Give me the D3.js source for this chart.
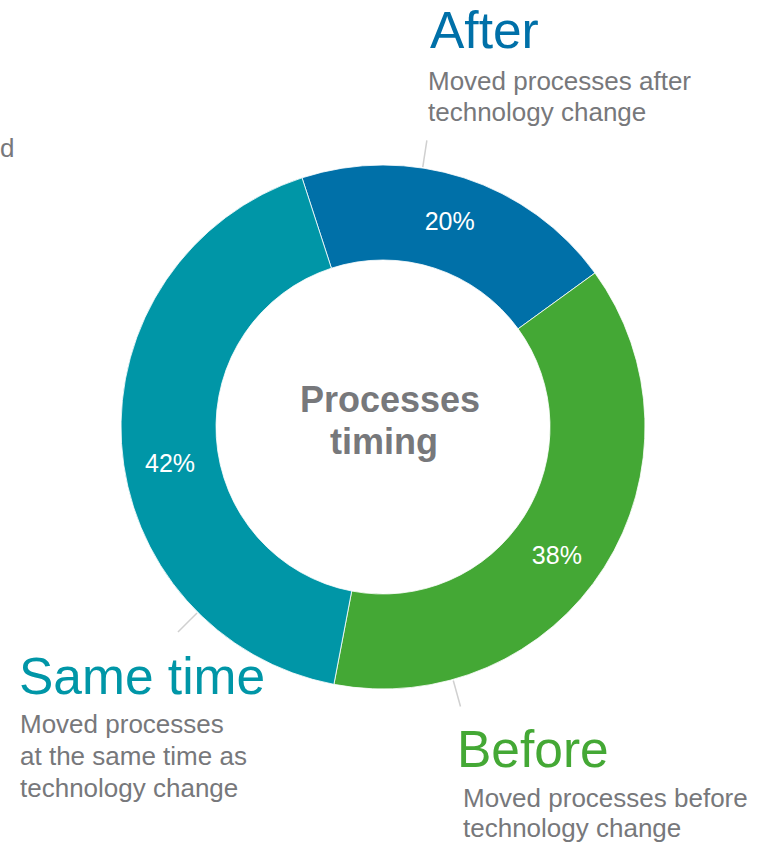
<!DOCTYPE html>
<html>
<head>
<meta charset="utf-8">
<script src="https://cdn.jsdelivr.net/npm/d3@7"></script>
<style>
  html, body { margin: 0; padding: 0; background: #fff; overflow: hidden; }
  svg { display: block; font-family: "Liberation Sans", Arial, Helvetica, sans-serif; }
</style>
</head>
<body>
<svg id="chart" width="774" height="845"></svg>
<script>
// Share of processes moved relative to the technology change
const categories = ["After", "Before", "Same time"];
const shares = [20, 38, 42];
const descriptions = [
  ["Moved processes after", "technology change"],
  ["Moved processes before", "technology change"],
  ["Moved processes", "at the same time as", "technology change"]
];
const centerTitle = ["Processes", "timing"];

const colors = d3.scaleOrdinal()
  .domain(categories)
  .range(["#0070A8", "#44A835", "#0096A7"]);

const cx = 383, cy = 427;
const rOuter = 262, rInner = 167;
const startDeg = -18;
const gray = "#77787B";

const svg = d3.select("#chart");
const g = svg.append("g").attr("transform", `translate(${cx},${cy})`);

const rad = d => d * Math.PI / 180;

const pie = d3.pie()
  .sort(null)
  .value(d => d.value)
  .startAngle(rad(startDeg))
  .endAngle(rad(startDeg + 360));

const data = categories.map((c, i) => ({ name: c, value: shares[i] }));
const arcs = pie(data);

const arc = d3.arc().innerRadius(rInner).outerRadius(rOuter);

g.selectAll("path.slice")
  .data(arcs)
  .join("path")
  .attr("class", "slice")
  .attr("d", arc)
  .attr("fill", d => colors(d.data.name))
  .attr("stroke", "#fff")
  .attr("stroke-width", 0.8);

// Percentage labels inside the ring, nudged slightly along the arc
const labelNudge = [0, 4, -6];
const labelR = 216;
g.selectAll("text.pct")
  .data(arcs)
  .join("text")
  .attr("class", "pct")
  .attr("x", (d, i) => labelR * Math.sin((d.startAngle + d.endAngle) / 2 + rad(labelNudge[i])))
  .attr("y", (d, i) => -labelR * Math.cos((d.startAngle + d.endAngle) / 2 + rad(labelNudge[i])))
  .attr("dy", "0.35em")
  .attr("text-anchor", "middle")
  .attr("fill", "#fff")
  .attr("font-size", 25)
  .text(d => d.data.value + "%");

// Centre title
const title = g.append("text")
  .attr("text-anchor", "middle")
  .attr("font-weight", "bold")
  .attr("font-size", 36)
  .attr("fill", gray);
title.append("tspan").attr("x", 7).attr("y", -15).text(centerTitle[0]);
title.append("tspan").attr("x", 1).attr("y", 27).text(centerTitle[1]);

// Leader lines from the ring toward each callout
const leaderDeg = [8.7, 164.5, 225];
g.selectAll("line.leader")
  .data(leaderDeg)
  .join("line")
  .attr("class", "leader")
  .attr("x1", d => (rOuter + 1) * Math.sin(rad(d)))
  .attr("y1", d => -(rOuter + 1) * Math.cos(rad(d)))
  .attr("x2", d => 290 * Math.sin(rad(d)))
  .attr("y2", d => -290 * Math.cos(rad(d)))
  .attr("stroke", "#D0D0D0")
  .attr("stroke-width", 1.5);

// Callouts: heading in the slice colour, description in grey
const callouts = [
  { x: 430, headY: 48, descX: 428, descY: 90, lineH: 31 },
  { x: 457, headY: 767, descX: 463, descY: 807, lineH: 30 },
  { x: 19, headY: 694, descX: 20, descY: 733, lineH: 32 }
];

categories.forEach((c, i) => {
  const p = callouts[i];
  svg.append("text")
    .attr("x", p.x)
    .attr("y", p.headY)
    .attr("font-size", 51.5)
    .attr("fill", colors(c))
    .text(c);
  const t = svg.append("text")
    .attr("font-size", 26)
    .attr("fill", gray);
  descriptions[i].forEach((line, k) => {
    t.append("tspan")
      .attr("x", p.descX)
      .attr("y", p.descY + k * p.lineH)
      .text(line);
  });
});

// Tail of a neighbouring caption at the left edge
svg.append("text")
  .attr("x", 0)
  .attr("y", 157)
  .attr("font-size", 26)
  .attr("fill", gray)
  .text("d");
</script>
</body>
</html>
